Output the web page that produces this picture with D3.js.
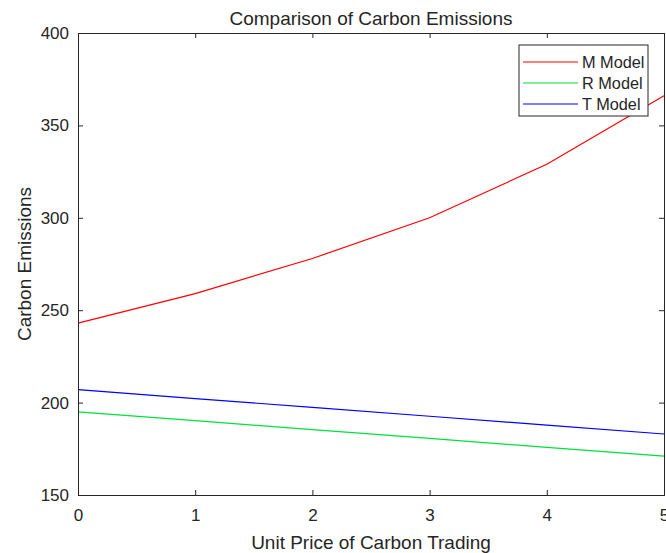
<!DOCTYPE html>
<html>
<head>
<meta charset="utf-8">
<script src="https://cdn.jsdelivr.net/npm/d3@7"></script>
<style>
  body { margin: 0; background: #fff; }
  svg text { font-family: "Liberation Sans", Arial, sans-serif; fill: #262626; }
</style>
</head>
<body>
<div id="chart"></div>
<script>
// data
var prices = [0, 1, 2, 3, 4, 5];
var mModel = [243, 259, 278, 300, 329, 366];
var rModel = [195, 190.2, 185.4, 180.6, 175.8, 171];
var tModel = [207, 202.2, 197.4, 192.6, 187.8, 183];
var yTicks = [150, 200, 250, 300, 350, 400];

var series = [
  { name: "M Model", values: mModel, color: "#ff0000" },
  { name: "R Model", values: rModel, color: "#00e03a" },
  { name: "T Model", values: tModel, color: "#0000ff" }
];

var w_svg = 666, h_svg = 553;
var m_left = 78, m_right = 664, m_top = 33, m_bottom = 495;

var svg = d3.select("#chart")
  .append("svg")
  .attr("width", w_svg)
  .attr("height", h_svg);

var x = d3.scaleLinear().domain([0, 5]).range([m_left, m_right]);
var y = d3.scaleLinear().domain([150, 400]).range([m_bottom, m_top]);

// lines
var line = d3.line()
  .x(function(d, i) { return x(prices[i]); })
  .y(function(d) { return y(d); });

svg.selectAll("path.series")
  .data(series)
  .enter()
  .append("path")
  .attr("class", "series")
  .attr("d", function(s) { return line(s.values); })
  .style("fill", "none")
  .style("stroke", function(s) { return s.color; })
  .style("stroke-width", "1.2px");

// axes (matlab style, ticks inside, box on)
var axColor = "#262626";
var xAxis = svg.append("g")
  .attr("transform", "translate(0," + m_bottom + ")")
  .call(d3.axisBottom(x).tickValues(prices).tickSize(-5).tickPadding(14).tickFormat(d3.format("d")));
var xAxisTop = svg.append("g")
  .attr("transform", "translate(0," + m_top + ")")
  .call(d3.axisTop(x).tickValues(prices).tickSize(-5).tickFormat(""));
var yAxis = svg.append("g")
  .attr("transform", "translate(" + m_left + ",0)")
  .call(d3.axisLeft(y).tickValues(yTicks).tickSize(-5).tickPadding(9));
var yAxisRight = svg.append("g")
  .attr("transform", "translate(" + m_right + ",0)")
  .call(d3.axisRight(y).tickValues(yTicks).tickSize(-5).tickFormat(""));

[xAxis, xAxisTop, yAxis, yAxisRight].forEach(function(g) {
  g.selectAll("path, line").attr("stroke", axColor).attr("stroke-width", 1);
  g.selectAll("text").style("font-size", "17px").attr("fill", axColor);
});
xAxis.selectAll("text").attr("dy", "0.71em");

// titles
svg.append("text")
  .attr("x", (m_left + m_right) / 2)
  .attr("y", 25)
  .attr("text-anchor", "middle")
  .style("font-size", "19px")
  .text("Comparison of Carbon Emissions");

svg.append("text")
  .attr("x", (m_left + m_right) / 2)
  .attr("y", 549)
  .attr("text-anchor", "middle")
  .style("font-size", "19px")
  .text("Unit Price of Carbon Trading");

svg.append("text")
  .attr("transform", "translate(31," + ((m_top + m_bottom) / 2) + ") rotate(-90)")
  .attr("text-anchor", "middle")
  .style("font-size", "19px")
  .text("Carbon Emissions");

// legend
var legend = svg.append("g");
legend.append("rect")
  .attr("x", 519)
  .attr("y", 45)
  .attr("width", 129)
  .attr("height", 71)
  .style("fill", "#fff")
  .style("stroke", axColor)
  .style("stroke-width", "1px");

var items = legend.selectAll("g.item")
  .data(series)
  .enter()
  .append("g")
  .attr("class", "item")
  .attr("transform", function(d, i) { return "translate(0," + (62 + i * 21) + ")"; });

items.append("line")
  .attr("x1", 523)
  .attr("x2", 578)
  .style("stroke", function(d) { return d.color; })
  .style("stroke-width", "1.2px");

items.append("text")
  .attr("x", 582)
  .attr("dy", "0.36em")
  .style("font-size", "16.3px")
  .text(function(d) { return d.name; });
</script>
</body>
</html>
